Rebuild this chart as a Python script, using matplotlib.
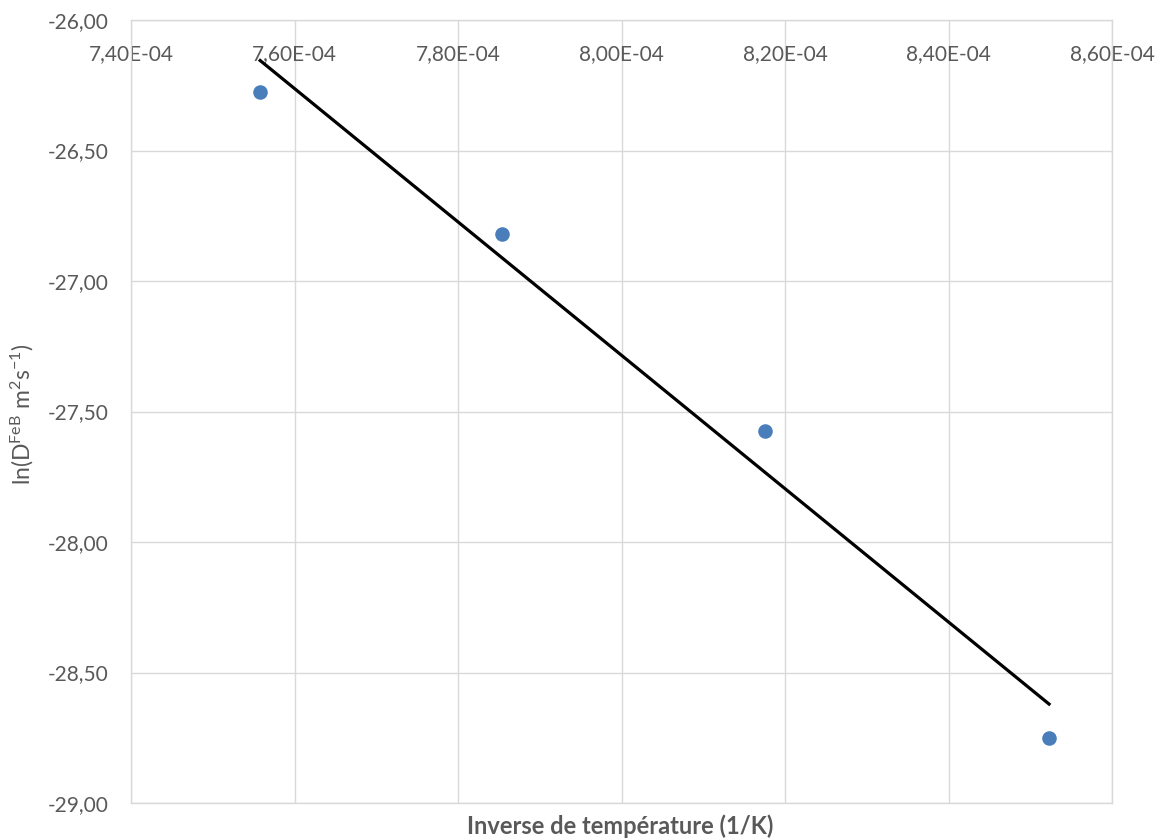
import numpy as np
import matplotlib
matplotlib.use("Agg")
import matplotlib.pyplot as plt
from matplotlib.ticker import FuncFormatter

# Data
inv_T = [7.558e-4, 7.854e-4, 8.176e-4, 8.523e-4]
ln_D = [-26.276, -26.820, -27.575, -28.751]
x_ticks = [7.40e-4, 7.60e-4, 7.80e-4, 8.00e-4, 8.20e-4, 8.40e-4, 8.60e-4]
y_ticks = [-29.0, -28.5, -28.0, -27.5, -27.0, -26.5, -26.0]

plt.rcParams['font.family'] = ['Lato', 'DejaVu Sans']
plt.rcParams['mathtext.fontset'] = 'custom'
plt.rcParams['mathtext.rm'] = 'Lato'
plt.rcParams['mathtext.it'] = 'Lato'

grey = '#595959'
gridc = '#d9d9d9'

fig = plt.figure(figsize=(11.63, 8.39), dpi=100)
ax = fig.add_axes([131/1163, 36/839, (1112-131)/1163, (803-20)/839])

ax.scatter(inv_T, ln_D, s=110, color='#4a7ebb', zorder=3, linewidths=0)
coef = np.polyfit(inv_T, ln_D, 1)
xs = np.array([min(inv_T), max(inv_T)])
ax.plot(xs, np.polyval(coef, xs), color='black', lw=2.3, zorder=2)

ax.set_xlim(x_ticks[0], x_ticks[-1])
ax.set_ylim(y_ticks[0], y_ticks[-1])
ax.set_xticks(x_ticks)
ax.set_yticks(y_ticks)

def xfmt(v, pos):
    m = v / 1e-4
    return f"{m:.2f}E-04".replace('.', ',')

def yfmt(v, pos):
    return f"{v:.2f}".replace('.', ',')

ax.xaxis.set_major_formatter(FuncFormatter(xfmt))
ax.yaxis.set_major_formatter(FuncFormatter(yfmt))

ax.xaxis.set_ticks_position('top')
ax.tick_params(axis='x', which='both', length=0, labeltop=True, labelbottom=False,
               pad=-32, labelsize=15, labelcolor=grey)
ax.tick_params(axis='y', length=0, pad=16, labelsize=15, labelcolor=grey)

ax.grid(True, color=gridc, lw=1)
ax.set_axisbelow(True)
for s in ax.spines.values():
    s.set_color(gridc)
    s.set_linewidth(1)

fig.text(620/1163, 1 - 826/839, 'Inverse de température (1/K)', ha='center', va='center',
         fontsize=17, fontweight='bold', color=grey)
fig.text(22/1163, 1 - 414/839, r'ln(D$^{\mathrm{FeB}}$ m$^{2}$s$^{-1}$)', ha='center', va='center',
         rotation=90, fontsize=16.5, color=grey)

fig.savefig('out.png', dpi=100)
